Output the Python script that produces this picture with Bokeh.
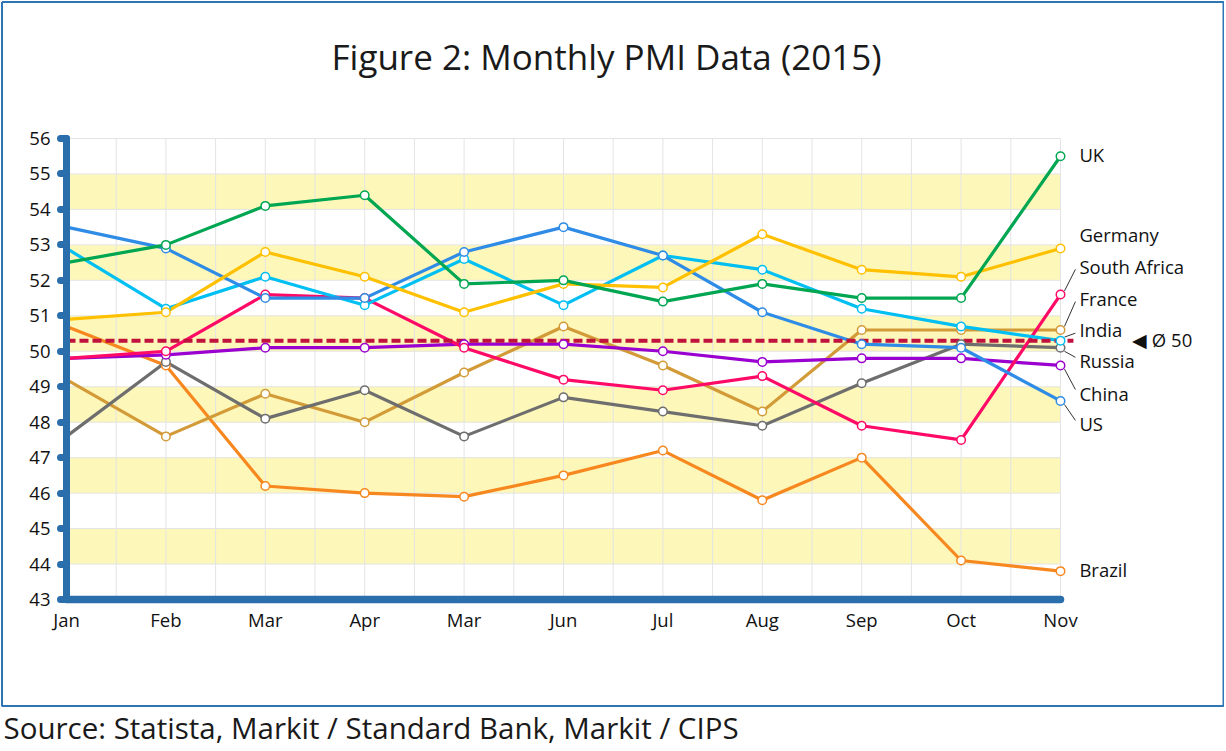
from bokeh.plotting import figure
from bokeh.models import Range1d, FixedTicker
from bokeh.core.properties import value
from bokeh.embed import file_html
from bokeh.resources import INLINE

# ---------------- data ----------------
months = ["Jan", "Feb", "Mar", "Apr", "Mar", "Jun", "Jul", "Aug", "Sep", "Oct", "Nov"]
uk = [52.5, 53.0, 54.1, 54.4, 51.9, 52.0, 51.4, 51.9, 51.5, 51.5, 55.5]
germany = [50.9, 51.1, 52.8, 52.1, 51.1, 51.9, 51.8, 53.3, 52.3, 52.1, 52.9]
us = [53.5, 52.9, 51.5, 51.5, 52.8, 53.5, 52.7, 51.1, 50.2, 50.1, 48.6]
india = [52.9, 51.2, 52.1, 51.3, 52.6, 51.3, 52.7, 52.3, 51.2, 50.7, 50.3]
south_africa = [49.8, 50.0, 51.6, 51.5, 50.1, 49.2, 48.9, 49.3, 47.9, 47.5, 51.6]
china = [49.8, 49.9, 50.1, 50.1, 50.2, 50.2, 50.0, 49.7, 49.8, 49.8, 49.6]
russia = [47.6, 49.7, 48.1, 48.9, 47.6, 48.7, 48.3, 47.9, 49.1, 50.2, 50.1]
france = [49.2, 47.6, 48.8, 48.0, 49.4, 50.7, 49.6, 48.3, 50.6, 50.6, 50.6]
brazil = [50.7, 49.6, 46.2, 46.0, 45.9, 46.5, 47.2, 45.8, 47.0, 44.1, 43.8]
average = 50.3
average_label = "\u25C0 \u00D8 50"
y_ticks = list(range(43, 57))
band_bottoms = [44, 46, 48, 50, 52, 54]
title_text = "Figure 2: Monthly PMI Data (2015)"
source_text = "Source: Statista, Markit / Standard Bank, Markit / CIPS"

series = [
    ("Brazil", brazil, "#F7871F"),
    ("France", france, "#D29B38"),
    ("Russia", russia, "#6E6E6E"),
    ("China", china, "#9A00CF"),
    ("South Africa", south_africa, "#FF0A66"),
    ("India", india, "#00BFF2"),
    ("US", us, "#2F8CE6"),
    ("Germany", germany, "#FFC000"),
    ("UK", uk, "#00A651"),
]

# ---------------- layout (axis units) ----------------
label_mid = {"UK": 55.55, "Germany": 53.28, "South Africa": 52.40, "France": 51.49,
             "India": 50.60, "Russia": 49.73, "China": 48.82, "US": 47.95, "Brazil": 43.85}
leaders = ["South Africa", "France", "India", "Russia", "China", "US"]

AXIS = "#2A6EAB"
FONT = "Open Sans"
TXT = "#111111"

p = figure(width=1224, height=748,
           x_range=Range1d(-0.66398, 11.6499), y_range=Range1d(38.7983, 59.8915),
           output_backend="svg", toolbar_location=None,
           min_border=0, min_border_left=0, min_border_right=0,
           min_border_top=0, min_border_bottom=0)
p.outline_line_color = None
p.xgrid.visible = False
p.ygrid.visible = False
p.background_fill_color = "white"
p.border_fill_color = "white"

xs = list(range(len(months)))
xmax = xs[-1]
ymin, ymax = y_ticks[0], y_ticks[-1]

# y axis, placed inside the frame
yax = p.yaxis[0]
yax.fixed_location = 0
yax.bounds = (ymin, ymax)
yax.ticker = FixedTicker(ticks=y_ticks)
yax.axis_line_color = AXIS
yax.axis_line_width = 7
yax.axis_line_cap = "round"
yax.major_tick_line_color = AXIS
yax.major_tick_line_width = 7
yax.major_tick_line_cap = "round"
yax.major_tick_out = 6
yax.major_tick_in = 0
yax.minor_tick_line_color = None
yax.major_label_text_font = FONT
yax.major_label_text_font_size = "18.5px"
yax.major_label_text_color = TXT
yax.major_label_standoff = 10

# x axis, placed inside the frame
xax = p.xaxis[0]
xax.fixed_location = ymin
xax.bounds = (0, xmax)
xax.ticker = FixedTicker(ticks=xs)
xax.major_label_overrides = {i: m for i, m in enumerate(months)}
xax.axis_line_color = AXIS
xax.axis_line_width = 7.5
xax.axis_line_cap = "round"
xax.major_tick_line_color = None
xax.minor_tick_line_color = None
xax.major_tick_out = 0
xax.major_tick_in = 0
xax.major_label_standoff = 7
xax.major_label_text_font = FONT
xax.major_label_text_font_size = "18.5px"
xax.major_label_text_color = TXT

# yellow bands
p.quad(left=0, right=xmax, bottom=band_bottoms, top=[b + 1 for b in band_bottoms],
       fill_color="#FDF7B9", line_color=None, level="underlay")

# grid lines
vx = [i / 2 for i in range(1, 2 * xmax + 1)]
p.segment(x0=vx, y0=[ymin] * len(vx), x1=vx, y1=[ymax] * len(vx),
          line_color="#E4E4E4", line_width=1, level="underlay")
hy = y_ticks[1:]
p.segment(x0=[0] * len(hy), y0=hy, x1=[xmax] * len(hy), y1=hy,
          line_color="#E4E4E4", line_width=1, level="underlay")

# series lines
for name, vals, col in series:
    p.line(xs, vals, line_color=col, line_width=3.2)

# average dashed line
p.segment(x0=[0], y0=[average], x1=[xmax + 0.13], y1=[average],
          line_color="#C0123C", line_width=4, line_dash="9 4")

# leaders from last point to label
lx0, ly0, lx1, ly1 = [], [], [], []
for name, vals, col in series:
    if name in leaders:
        mid = label_mid[name]
        up = vals[-1] < mid
        lx0.append(xmax + 0.04)
        ly0.append(vals[-1] + (0.1 if up else -0.1))
        lx1.append(xmax + 0.15)
        ly1.append(mid + (-0.09 if up else 0.1))
p.segment(x0=lx0, y0=ly0, x1=lx1, y1=ly1, line_color="#333333", line_width=1)

# markers
for name, vals, col in series:
    p.scatter(xs[1:], vals[1:], size=8.5, fill_color="white", line_color=col, line_width=1.5)

# end labels
names = [s[0] for s in series]
p.text(x=[xmax + 0.19] * len(names), y=[label_mid[n] for n in names], text=names,
       text_baseline="middle", text_align="left", text_font=value(FONT),
       text_font_size="18.5px", text_color=TXT)
p.text(x=[xmax + 0.72], y=[average + 0.03], text=[average_label], text_baseline="middle",
       text_align="left", text_font=value(FONT), text_font_size="18.5px", text_color=TXT)

# title and source
p.text(x=[5.433], y=[58.31], text=[title_text], text_align="center",
       text_baseline="middle", text_font=value(FONT), text_font_size="35px",
       text_color="#1A1A1A")
p.text(x=[-0.634], y=[39.39], text=[source_text], text_align="left",
       text_baseline="middle", text_font=value(FONT), text_font_size="29.5px",
       text_color="#1A1A1A")

# outer border
bx0, bx1, by0, by1 = -0.649, 11.640, 39.997, 59.849
p.multi_line(xs=[[bx0, bx1, bx1, bx0, bx0]], ys=[[by1, by1, by0, by0, by1]],
             line_color="#2E75B6", line_width=2)

open("out.html", "w").write(file_html(p, INLINE))
